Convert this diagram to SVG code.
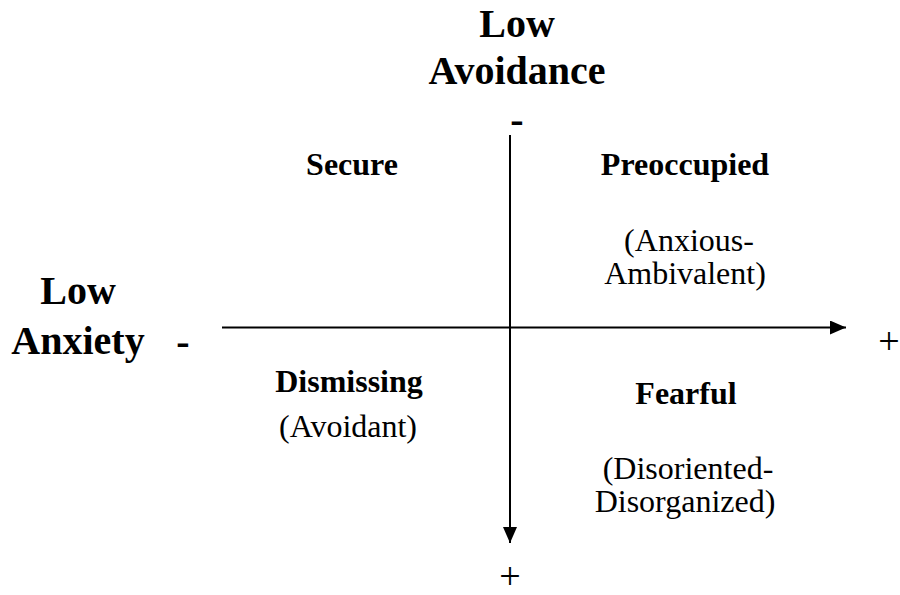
<svg xmlns="http://www.w3.org/2000/svg" width="900" height="595" viewBox="0 0 900 595">
  <style>
    text { font-family: "Liberation Serif", "Times New Roman", serif; fill: #000; text-anchor: middle; }
    .title { font-size: 40px; font-weight: bold; }
    .label { font-size: 32px; font-weight: bold; }
    .sub { font-size: 32px; }
    .minus { font-size: 40px; font-weight: bold; }
    .sign { font-size: 38px; }
    .axis { stroke: #000; stroke-width: 2; fill: none; }
  </style>
  <defs>
    <marker id="arrow" viewBox="0 0 16 14" refX="16" refY="7" markerWidth="16" markerHeight="14" markerUnits="userSpaceOnUse" orient="auto">
      <path d="M0,0 L16,7 L0,14 Z" fill="#000"/>
    </marker>
  </defs>
  <rect width="900" height="595" fill="#fff"/>
  <g id="connectors">
    <line class="axis" x1="510" y1="135" x2="510" y2="543" marker-end="url(#arrow)"/>
    <line class="axis" x1="222" y1="327.5" x2="846" y2="327.5" marker-end="url(#arrow)"/>
  </g>
  <g id="avoidance-axis-label">
    <text class="title" x="517" y="37">Low</text>
    <text class="title" x="517" y="84">Avoidance</text>
    <text class="minus" x="517" y="133">-</text>
    <text class="sign" x="510" y="589">+</text>
  </g>
  <g id="anxiety-axis-label">
    <text class="title" x="78" y="304">Low</text>
    <text class="title" x="78" y="354">Anxiety</text>
    <text class="minus" x="183" y="355">-</text>
    <text class="sign" x="889" y="354">+</text>
  </g>
  <g id="secure">
    <text class="label" x="352" y="175">Secure</text>
  </g>
  <g id="preoccupied">
    <text class="label" x="685" y="175">Preoccupied</text>
    <text class="sub" x="689" y="251">(Anxious-</text>
    <text class="sub" x="685" y="284">Ambivalent)</text>
  </g>
  <g id="dismissing">
    <text class="label" x="349" y="392">Dismissing</text>
    <text class="sub" x="348" y="437">(Avoidant)</text>
  </g>
  <g id="fearful">
    <text class="label" x="686" y="404">Fearful</text>
    <text class="sub" x="688" y="479">(Disoriented-</text>
    <text class="sub" x="685" y="512">Disorganized)</text>
  </g>
</svg>
